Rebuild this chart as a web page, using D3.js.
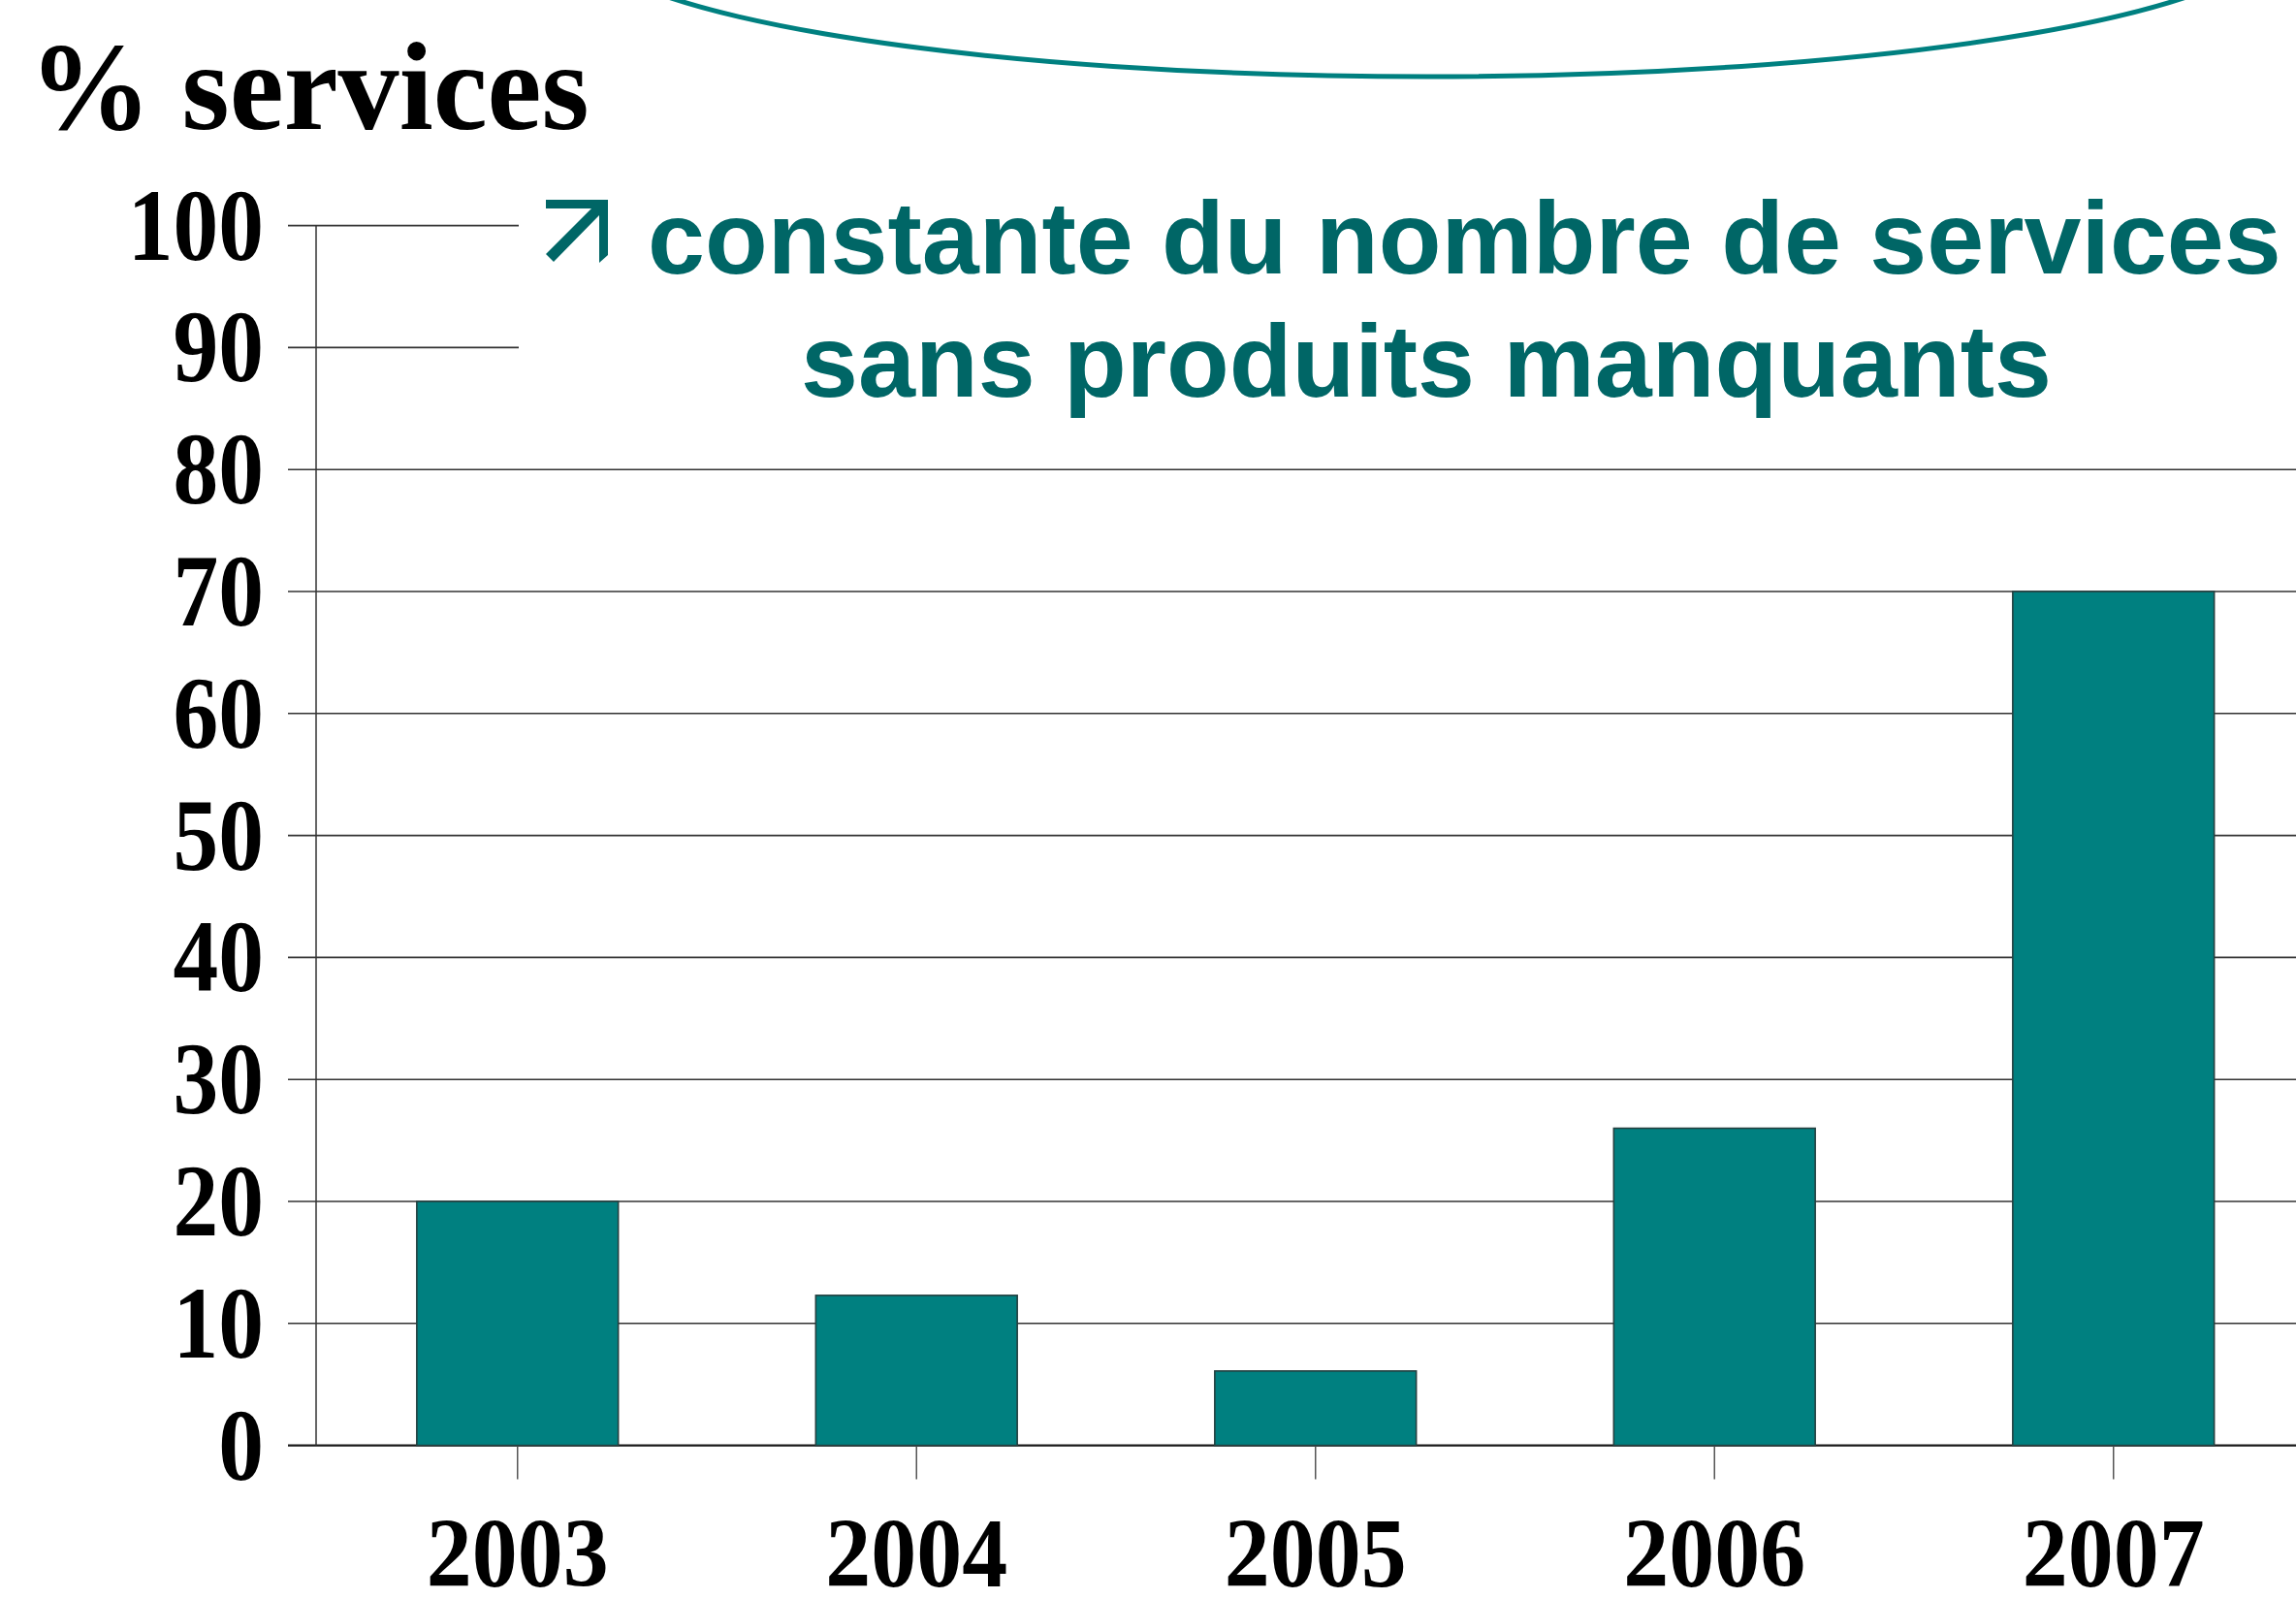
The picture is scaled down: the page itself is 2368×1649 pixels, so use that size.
<!DOCTYPE html>
<html>
<head>
<meta charset="utf-8">
<script src="https://cdn.jsdelivr.net/npm/d3@7"></script>
<style>
  html, body { margin: 0; padding: 0; background: #ffffff; }
  svg { display: block; }
</style>
</head>
<body>
<svg id="chart" width="2368" height="1649"></svg>
<script>
// ---- data ----
const years = ["2003", "2004", "2005", "2006", "2007"];
const values = [20, 12.3, 6.1, 26, 70];
const yTicks = [0, 10, 20, 30, 40, 50, 60, 70, 80, 90, 100];
const yTitle = "% services";
const noteLine1 = "constante du nombre de services";
const noteLine2 = "sans produits manquants";

// ---- layout ----
const W = 2368, H = 1649;
const svg = d3.select("#chart");
svg.append("rect").attr("width", W).attr("height", H).attr("fill", "#ffffff");

const serif = "'Liberation Serif', 'Times New Roman', Times, serif";
const sans = "'Liberation Sans', Arial, Helvetica, sans-serif";
const teal = "#008080";
const darkTeal = "#006666";

const y = d3.scaleLinear().domain([0, 100]).range([1490.6, 232.6]);
const x = d3.scaleBand().domain(years).range([328, 2385.5])
  .paddingInner(0.495).paddingOuter(0.2475);

// ellipse callout at top (partially off-canvas)
svg.append("ellipse")
  .attr("cx", 1472).attr("cy", -72).attr("rx", 880).attr("ry", 151)
  .attr("fill", "none").attr("stroke", teal).attr("stroke-width", 5);

// gridlines (also form the outer ticks left of the axis)
svg.append("g").selectAll("line").data(yTicks).join("line")
  .attr("x1", 297).attr("x2", W)
  .attr("y1", d => y(d)).attr("y2", d => y(d))
  .attr("stroke", d => d === 0 ? "#1a1a1a" : "#333")
  .attr("stroke-width", d => d === 0 ? 2.2 : 1.6);

// y axis line
svg.append("line")
  .attr("x1", 326).attr("x2", 326)
  .attr("y1", y(100)).attr("y2", y(0))
  .attr("stroke", "#333").attr("stroke-width", 1.5);

// y tick labels (slightly condensed serif, as in the original rendering)
svg.append("g").selectAll("text").data(yTicks).join("text")
  .attr("transform", d => `translate(272,${y(d) + 35}) scale(0.89,1)`)
  .attr("text-anchor", "end")
  .attr("font-family", serif).attr("font-weight", "bold")
  .attr("font-size", 105).attr("fill", "#000")
  .text(d => d);

// x ticks
svg.append("g").selectAll("line").data(years).join("line")
  .attr("x1", d => x(d) + x.bandwidth() / 2)
  .attr("x2", d => x(d) + x.bandwidth() / 2)
  .attr("y1", y(0)).attr("y2", y(0) + 35)
  .attr("stroke", "#555").attr("stroke-width", 1.5);

// x labels
svg.append("g").selectAll("text").data(years).join("text")
  .attr("transform", d => `translate(${x(d) + x.bandwidth() / 2},1636) scale(0.93,1)`)
  .attr("text-anchor", "middle")
  .attr("font-family", serif).attr("font-weight", "bold")
  .attr("font-size", 101).attr("fill", "#000")
  .text(d => d);

// bars
svg.append("g").selectAll("rect").data(values).join("rect")
  .attr("x", (d, i) => x(years[i]))
  .attr("width", x.bandwidth())
  .attr("y", d => y(d))
  .attr("height", d => y(0) - y(d))
  .attr("fill", teal)
  .attr("stroke", "#244040").attr("stroke-width", 1.6);

// title
svg.append("text")
  .attr("transform", "translate(30,133) scale(0.97,1)")
  .attr("font-family", serif).attr("font-weight", "bold")
  .attr("font-size", 130).attr("fill", "#000")
  .text(yTitle);

// annotation box (white background hides upper gridlines)
svg.append("rect")
  .attr("x", 535).attr("y", 195).attr("width", W - 535).attr("height", 245)
  .attr("fill", "#ffffff");

// arrow symbol
svg.append("path")
  .attr("fill", darkTeal)
  .attr("d", "M563,206 L627,206 L627,263 L618,271 L618,222 L571,270 L563,262 L610,215 L563,215 Z");

svg.append("text")
  .attr("x", 668).attr("y", 282)
  .attr("font-family", sans).attr("font-weight", "bold")
  .attr("font-size", 106).attr("fill", darkTeal)
  .text(noteLine1);

svg.append("text")
  .attr("x", 1471).attr("y", 409)
  .attr("text-anchor", "middle")
  .attr("font-family", sans).attr("font-weight", "bold")
  .attr("font-size", 106).attr("fill", darkTeal)
  .text(noteLine2);
</script>
</body>
</html>
